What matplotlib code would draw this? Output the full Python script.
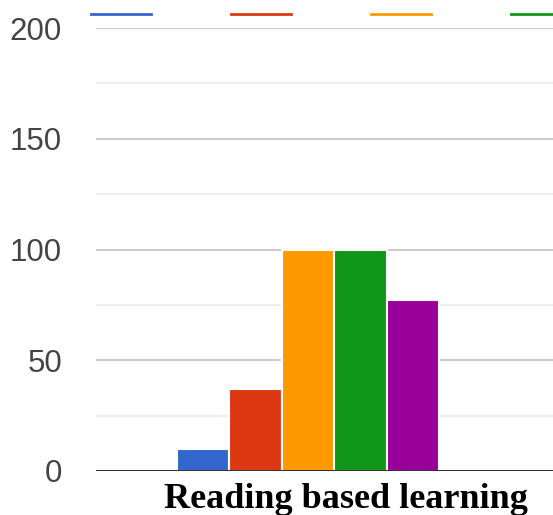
import numpy as np
import matplotlib.pyplot as plt
from matplotlib.lines import Line2D

category = "Reading based learning"
values = [10, 37, 100, 100, 77]
colors = ["#3366cc", "#dc3912", "#ff9900", "#109618", "#990099"]
yticks = [0, 50, 100, 150, 200]

W, H = 553, 515
fig = plt.figure(figsize=(W / 100, H / 100), dpi=100)
ax = fig.add_axes([96 / W, 44 / H, 1 - 96 / W, (471 - 28) / H])

x = np.arange(len(values)) - (len(values) - 1) / 2
ax.bar(x, values, width=1.0, color=colors, edgecolor="white", linewidth=1.5, zorder=3)

ax.set_ylim(0, 200)
ax.set_xlim(-4.04, 4.67)
ax.set_yticks(yticks)
ax.set_yticks([25, 75, 125, 175], minor=True)
ax.set_yticklabels([str(t) for t in yticks], fontsize=22.5, color="#444444",
                   family="Liberation Sans")
ax.tick_params(axis="y", which="both", length=0, pad=24.5)
ax.set_xticks([])
ax.grid(axis="y", which="major", color="#cccccc", linewidth=1.5, zorder=0)
ax.grid(axis="y", which="minor", color="#ebebeb", linewidth=1.2, zorder=0)
for s in ax.spines.values():
    s.set_visible(False)
ax.axhline(0, color="#333333", linewidth=2.2, zorder=4)

# category label under the axis
fig.text(346 / W, 1 - 508 / H, category, ha="center", va="baseline",
         fontsize=26, fontweight="bold", family="Liberation Serif")

# legend swatches along the top
for i, c in enumerate(colors):
    x0 = 91 + 140 * i
    fig.add_artist(Line2D([x0 / W, (x0 + 60) / W], [1 - 14 / H, 1 - 14 / H],
                          color=c, linewidth=2))

fig.savefig("out.png", dpi=100)
